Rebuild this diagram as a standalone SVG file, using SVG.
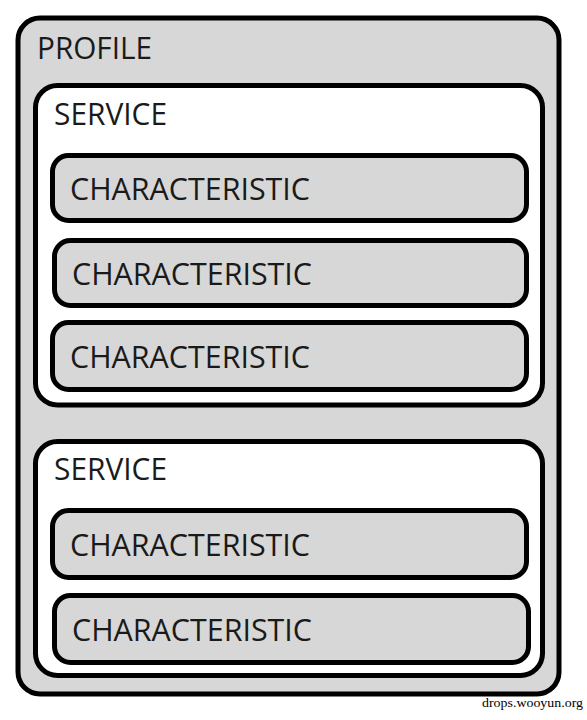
<svg xmlns="http://www.w3.org/2000/svg" width="587" height="720" viewBox="0 0 587 720">
<style>
.box{stroke:#000;stroke-width:5}
.gray{fill:#d7d7d7}
.white{fill:#fff}
.t{font-family:"Open Sans","Noto Sans",sans-serif;font-size:31px;fill:#1a1a1a}
.wm{font-family:"Liberation Serif",serif;font-size:13px;fill:#000}
</style>
<rect width="587" height="720" fill="#fff"/>
<g id="profile">
<rect class="box gray" x="18" y="18" width="541" height="676" rx="22"/>
<text class="t" x="37" y="59" textLength="115" lengthAdjust="spacingAndGlyphs">PROFILE</text>
</g>
<g id="service1">
<rect class="box white" x="35.5" y="85.5" width="507" height="319.5" rx="22"/>
<text class="t" x="54" y="124.5" textLength="113" lengthAdjust="spacingAndGlyphs">SERVICE</text>
</g>
<g id="char1">
<rect class="box gray" x="52.5" y="155.5" width="474" height="65" rx="16"/>
<text class="t" x="70" y="200" textLength="240" lengthAdjust="spacingAndGlyphs">CHARACTERISTIC</text>
</g>
<g id="char2">
<rect class="box gray" x="54.5" y="240.5" width="472" height="65" rx="16"/>
<text class="t" x="72" y="285" textLength="240" lengthAdjust="spacingAndGlyphs">CHARACTERISTIC</text>
</g>
<g id="char3">
<rect class="box gray" x="52.5" y="322.5" width="474" height="67" rx="16"/>
<text class="t" x="70" y="368" textLength="240" lengthAdjust="spacingAndGlyphs">CHARACTERISTIC</text>
</g>
<g id="service2">
<rect class="box white" x="35.5" y="441.5" width="507" height="234" rx="22"/>
<text class="t" x="54" y="480" textLength="113" lengthAdjust="spacingAndGlyphs">SERVICE</text>
</g>
<g id="char4">
<rect class="box gray" x="52.5" y="510.5" width="474" height="67" rx="16"/>
<text class="t" x="70" y="556" textLength="240" lengthAdjust="spacingAndGlyphs">CHARACTERISTIC</text>
</g>
<g id="char5">
<rect class="box gray" x="54.5" y="595.5" width="474" height="67" rx="16"/>
<text class="t" x="72" y="641" textLength="240" lengthAdjust="spacingAndGlyphs">CHARACTERISTIC</text>
</g>
<g id="connectors"/>
<text class="wm" x="482" y="707" textLength="101" lengthAdjust="spacingAndGlyphs">drops.wooyun.org</text>
</svg>
